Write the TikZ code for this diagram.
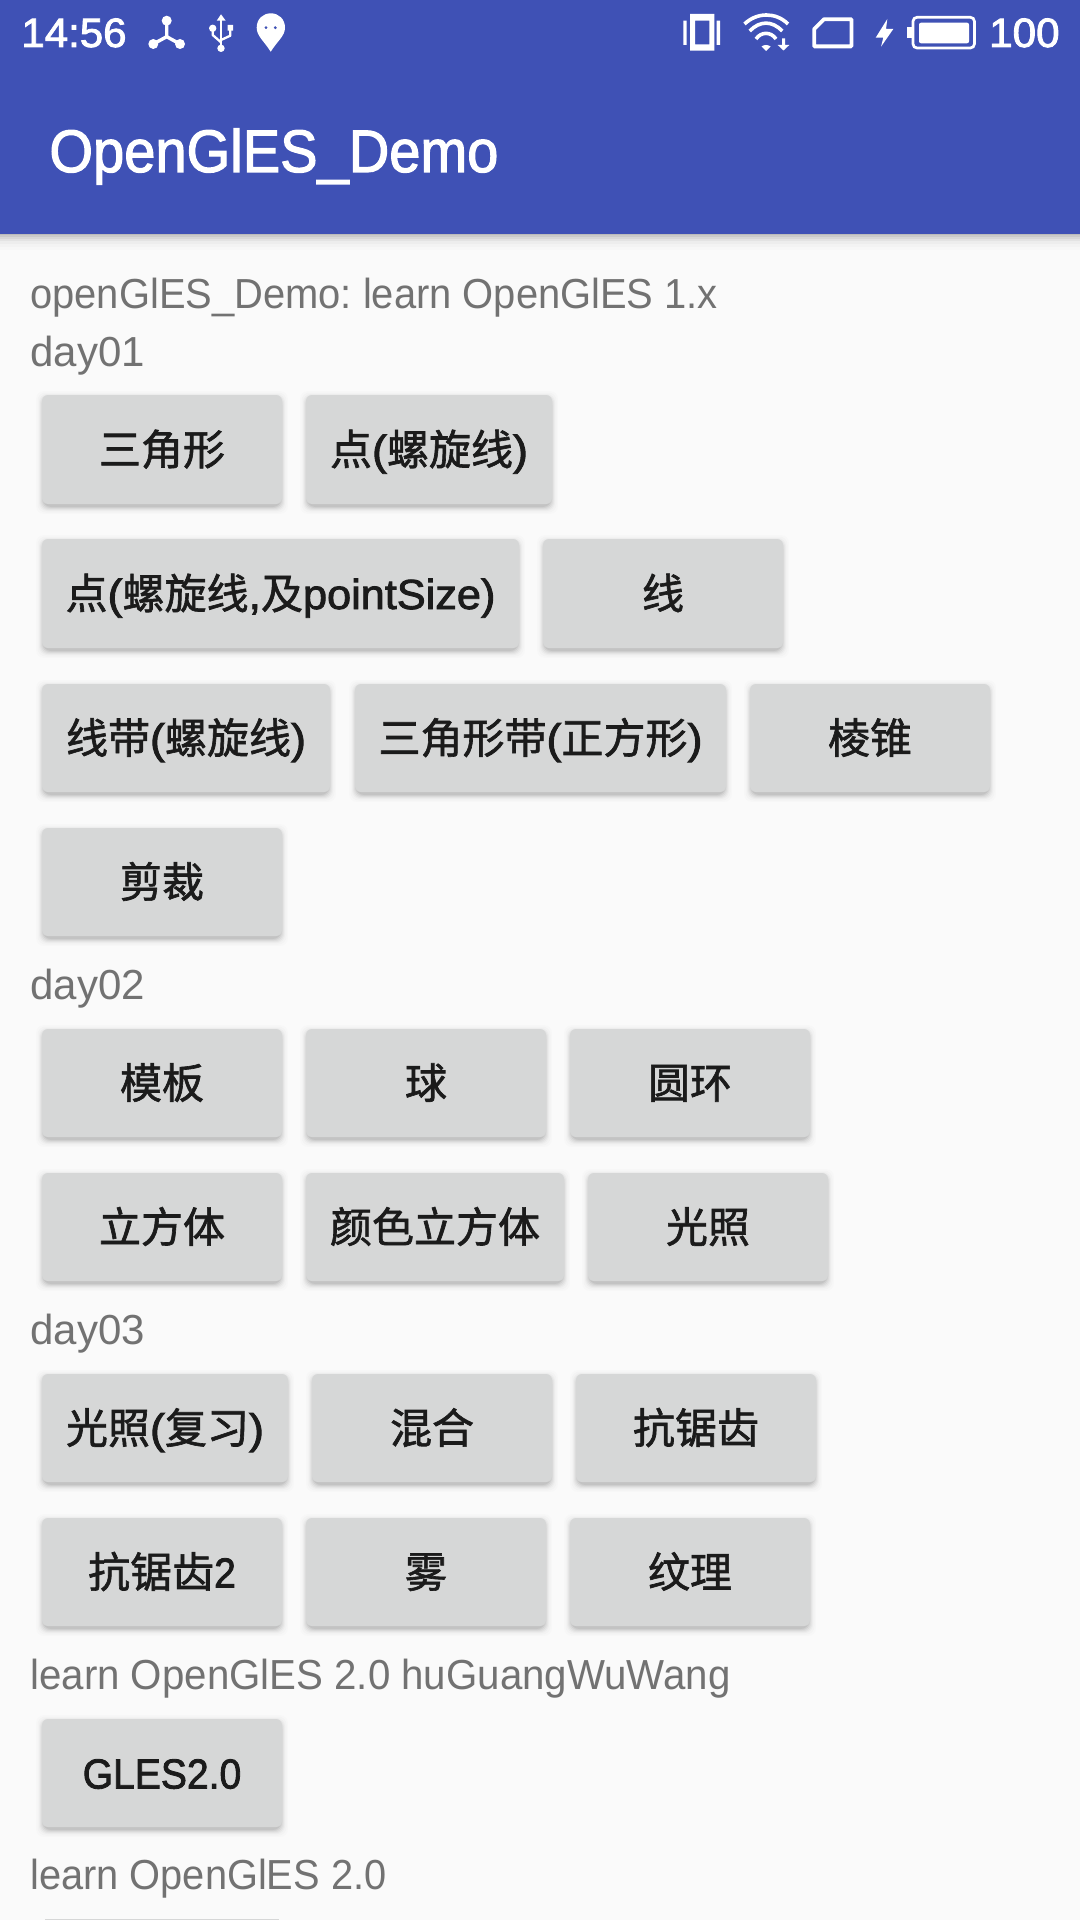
\documentclass[tikz,border=0pt]{standalone}
\usepackage{fontspec}
\setmainfont{Liberation Sans}
\newfontfamily\cjk[FakeBold=1.5]{Noto Sans CJK SC}
\newfontfamily\med[FakeBold=2]{Liberation Sans}
\definecolor{hdr}{HTML}{3F51B5}
\definecolor{pagebg}{HTML}{FAFAFA}
\definecolor{btnfill}{HTML}{D6D7D7}
\definecolor{btntext}{HTML}{1B1B1B}
\definecolor{lbl}{HTML}{727272}
\newcommand{\cj}[1]{{\cjk #1}}
\newcommand{\lat}[1]{\scalebox{.93}[1]{\med #1}}
\newcommand{\prn}[1]{\scalebox{1.07}[1]{\med #1}}
\newcommand{\latw}[1]{\scalebox{1.03}[1]{\med #1}}
\newcommand{\nar}[2]{\scalebox{#1}[1]{#2}}
\tikzset{
  x=0.5pt,y=-0.5pt,
  btnbox/.style={fill=btnfill,rounded corners=3pt,inner sep=0pt,text=btntext,font=\fontsize{21pt}{25pt}\selectfont,text height=19.5pt,text depth=4pt},
  lbltext/.style={anchor=base west,inner sep=0pt,text=lbl,font=\fontsize{21pt}{25pt}\selectfont\frenchspacing},
  icon/.style={fill=white,draw=none},
}
\newcommand{\btnshadow}[4]{% x1 x2 y1 y2
  \foreach \g/\o in {7/.012,5.5/.016,4/.022,3/.03,2/.04,1/.05,0/.06}{
    \fill[black,opacity=\o,rounded corners=4pt] (#1-\g+1,#3+3-\g) rectangle (#2+\g-1,#4+3+\g);
  }
}
\newcommand{\btn}[6]{% name x1 x2 y1 y2 text
  \btnshadow{#2}{#3}{#4}{#5}
  \pgfmathsetmacro{\bw}{(#3-#2)*0.5}
  \pgfmathsetmacro{\bh}{(#5-#4)*0.5}
  \node[btnbox,minimum width=\bw pt,minimum height=\bh pt] (#1) at ({(#2+#3)/2},{(#4+#5)/2}) {#6};
}
\begin{document}
\begin{tikzpicture}
\useasboundingbox (0,0) rectangle (1080,1920);
\fill[pagebg] (0,0) rectangle (1080,1920);
% header shadow
\foreach \d/\o in {16/.012,13/.016,10/.025,7/.04,5/.05,3/.06,1.5/.07}{
  \fill[black,opacity=\o] (0,234) rectangle (1080,234+\d);
}
\fill[hdr] (0,0) rectangle (1080,234);
% status bar text
\node[anchor=base west,inner sep=0pt,text=white,font=\fontsize{20.5pt}{24pt}\selectfont\med] (clock) at (21,47) {\nar{1.025}{14:56}};
\node[anchor=base east,inner sep=0pt,text=white,font=\fontsize{20.5pt}{24pt}\selectfont\med] (batt) at (1060,47) {\nar{1.03}{100}};
\node[anchor=base west,inner sep=0pt,text=white,font=\fontsize{30pt}{34pt}\selectfont] (title) at (49,172) {\scalebox{.935}[1]{\med OpenGlES\_Demo}};
% tether icon
\draw[white,line width=1.7pt] (166.7,21) -- (166.7,36.7) (153.3,44) -- (166.7,36.7) -- (180,44);
\fill[white] (166.7,20.7) circle[radius=5] (153.3,44) circle[radius=5] (180,44) circle[radius=5];
% usb icon
\draw[white,line width=1.15pt] (221,20) -- (221,48);
\draw[white,line width=1.15pt,line join=round] (212.7,28) -- (212.7,35) -- (221,42.3);
\draw[white,line width=1.15pt,line join=round] (230.3,30) -- (230.3,35.7) -- (221,40);
\fill[white] (221,14.3) -- (225.7,20.7) -- (216.7,20.7) -- cycle (221,48.3) circle[radius=3.7] (212.7,28.3) circle[radius=3.7] (227.7,25) rectangle (233,30.7);
% location pin
\fill[white,even odd rule] (270.7,51.7) .. controls (264,41) and (256.7,36) .. (256.7,27.7) .. controls (256.7,19) and (263,13.3) .. (270.8,13.3) .. controls (278.6,13.3) and (285,19) .. (285,27.7) .. controls (285,36) and (277.4,41) .. (270.7,51.7) -- cycle (266,27.7) circle[radius=1.8] (275.3,27.7) circle[radius=1.8];
% vibrate
\fill[white,even odd rule] (690,14) rectangle (714.3,50.7) (695,20.7) rectangle (709.3,44.3);
\fill[white] (683.3,20.7) rectangle (686.7,45) (716.7,20.7) rectangle (720,45);
% wifi
\draw[white,line width=1.8pt] (744.5,24) .. controls (757,12) and (776,12) .. (788,24);
\draw[white,line width=1.8pt] (749.7,31) .. controls (760,20.5) and (772,20.5) .. (782.3,31);
\draw[white,line width=1.8pt] (756,39) .. controls (761,31.5) and (771,31.5) .. (776,39);
\fill[white] (766,51) -- (761.5,46.5) .. controls (764,44.5) and (768,44.5) .. (770.5,46.5) -- cycle;
\fill[white] (783.5,50.5) -- (777.7,45) -- (782.2,45) -- (782.2,38.3) -- (785,38.3) -- (785,45) -- (789.3,45) -- cycle;
% sim
\draw[white,line width=1.9pt,line join=round] (824,19.2) -- (851.4,19.2) -- (851.4,46.4) -- (814.2,46.4) -- (814.2,29) -- cycle;
% bolt
\fill[white] (887.3,19) -- (875.7,37.7) -- (883.3,37.7) -- (881,46.7) -- (893.3,29) -- (886,29) -- cycle;
% battery
\fill[white] (907.3,26.7) rectangle (912,38.3);
\draw[white,line width=1.35pt,rounded corners=2pt] (913,17.3) rectangle (974.4,48);
\fill[white,rounded corners=1pt] (919,22.7) rectangle (969,43.3);
% body labels
\node[lbltext] (l1) at (30,309) {\nar{.95}{openGlES\_Demo: learn OpenGlES 1.x}};
\node[lbltext] (l2) at (30,366) {day01};
\node[lbltext] (l3) at (30,999) {day02};
\node[lbltext] (l4) at (30,1344) {day03};
\node[lbltext] (l5) at (30,1689) {\nar{.958}{learn OpenGlES 2.0 huGuangWuWang}};
\node[lbltext] (l6) at (30,1889) {\nar{.947}{learn OpenGlES 2.0}};
% buttons
\btn{b1}{42}{282}{395}{504}{\cj{三角形}}
\btn{b2}{306}{552}{395}{504}{\cj{点}\prn{(}\cj{螺旋线}\prn{)}}
\btn{b3}{42}{519}{539}{648}{\cj{点}\prn{(}\cj{螺旋线}\prn{,}\cj{及}\latw{pointSize)}}
\btn{b4}{543}{783}{539}{648}{\cj{线}}
\btn{b5}{42}{330}{684}{792}{\cj{线带}\prn{(}\cj{螺旋线}\prn{)}}
\btn{b6}{355}{726}{684}{792}{\cj{三角形带}\prn{(}\cj{正方形}\prn{)}}
\btn{b7}{750}{990}{684}{792}{\cj{棱锥}}
\btn{b8}{42}{282}{828}{936}{\cj{剪裁}}
\btn{b9}{42}{282}{1029}{1137}{\cj{模板}}
\btn{b10}{306}{546}{1029}{1137}{\cj{球}}
\btn{b11}{570}{810}{1029}{1137}{\cj{圆环}}
\btn{b12}{42}{282}{1173}{1281}{\cj{立方体}}
\btn{b13}{306}{564}{1173}{1281}{\cj{颜色立方体}}
\btn{b14}{588}{828}{1173}{1281}{\cj{光照}}
\btn{b15}{42}{288}{1374}{1482}{\cj{光照}\prn{(}\cj{复习}\prn{)}}
\btn{b16}{312}{552}{1374}{1482}{\cj{混合}}
\btn{b17}{576}{816}{1374}{1482}{\cj{抗锯齿}}
\btn{b18}{42}{282}{1518}{1626}{\cj{抗锯齿}\lat{2}}
\btn{b19}{306}{546}{1518}{1626}{\cj{雾}}
\btn{b20}{570}{810}{1518}{1626}{\cj{纹理}}
\btn{b21}{42}{282}{1719}{1827}{\lat{GLES2.0}}
\fill[btnfill] (45,1919) rectangle (279,1920);
\end{tikzpicture}
\end{document}
